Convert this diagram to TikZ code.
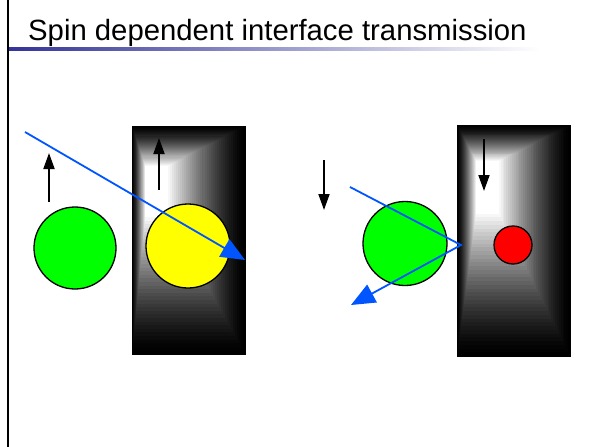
\documentclass[tikz,border=0pt]{standalone}
\usepackage{fontspec}
\setmainfont{Liberation Sans}
\usetikzlibrary{arrows.meta}
\definecolor{titleblue}{RGB}{51,51,153}
\definecolor{rayblue}{RGB}{0,85,255}
\definecolor{ballgreen}{RGB}{0,255,0}
\definecolor{ballyellow}{RGB}{255,255,0}
\definecolor{ballred}{RGB}{255,0,0}
% Box with a rectangular glow: outer rectangle (#1,#2)-(#3,#4) fades
% from black to white towards the inner rectangle (#5,#6)-(#7,#8).
\newcommand{\glowbox}[8]{%
  \foreach \k in {0,...,40}{%
    \pgfmathsetmacro\gt{\k/40}%
    \pgfmathsetmacro\gax{#1+\gt*(#5-#1)}%
    \pgfmathsetmacro\gay{#2+\gt*(#6-#2)}%
    \pgfmathsetmacro\gbx{#3+\gt*(#7-#3)}%
    \pgfmathsetmacro\gby{#4+\gt*(#8-#4)}%
    \pgfmathsetmacro\gpc{min(100,108*(\gt^1.4))}%
    \fill[white!\gpc!black] (\gax,\gay) rectangle (\gbx,\gby);
  }%
  \draw[black,line width=0.8pt] (#1,#2) rectangle (#3,#4);
}
\begin{document}
\begin{tikzpicture}[x=1pt,y=-1pt,
  spin/.style={line width=1.8pt,-{Triangle[length=16pt,width=11pt]}},
  ray/.style={rayblue,line width=1.8pt,-{Triangle[length=24pt,width=20pt]}},
  ball/.style={circle,draw=black,line width=1.3pt,inner sep=0pt},
]
\useasboundingbox (0,0) rectangle (595,447);
\fill[white] (0,0) rectangle (595,447);

% slide frame and title
\draw[line width=1.6pt] (8,0) -- (8,447);
\shade[left color=titleblue,right color=white] (9,47) rectangle (540,50.5);
\node[anchor=base west,inner sep=0pt,font=\fontsize{29.3}{32}\selectfont] (title) at (28,40)
  {Spin dependent interface transmission};

% the two ferromagnetic layers
\glowbox{132}{126}{245}{354}{146}{168}{164}{210}
\glowbox{457}{125}{570}{356}{477}{163}{495}{206}

% electrons and local moments
\node[ball,fill=ballgreen,minimum size=82pt]  (eL)  at (75,248) {};
\node[ball,fill=ballyellow,minimum size=84pt] (sL)  at (188,246) {};
\node[ball,fill=ballgreen,minimum size=84pt]  (eR)  at (405,243.5) {};
\node[ball,fill=ballred,minimum size=38pt]    (sR)  at (513,245) {};

% spin directions
\coordinate (upAa) at (49,202);  \coordinate (upAb) at (49,153);
\coordinate (upBa) at (159,190); \coordinate (upBb) at (159,138);
\coordinate (dnAa) at (324,160); \coordinate (dnAb) at (324,210);
\coordinate (dnBa) at (484,139); \coordinate (dnBb) at (484,191);
\draw[spin] (upAa) -- (upAb);
\draw[spin] (upBa) -- (upBb);
\draw[spin] (dnAa) -- (dnAb);
\draw[spin] (dnBa) -- (dnBb);

% transmitted and reflected electron paths
\coordinate (rayA) at (25,132);  \coordinate (rayB) at (245,260);
\coordinate (rayC) at (350,187); \coordinate (rayD) at (461,245);
\coordinate (rayE) at (351,305);
\draw[ray] (rayA) -- (rayB);
\draw[ray] (rayC) -- (rayD) -- (rayE);
\end{tikzpicture}
\end{document}
